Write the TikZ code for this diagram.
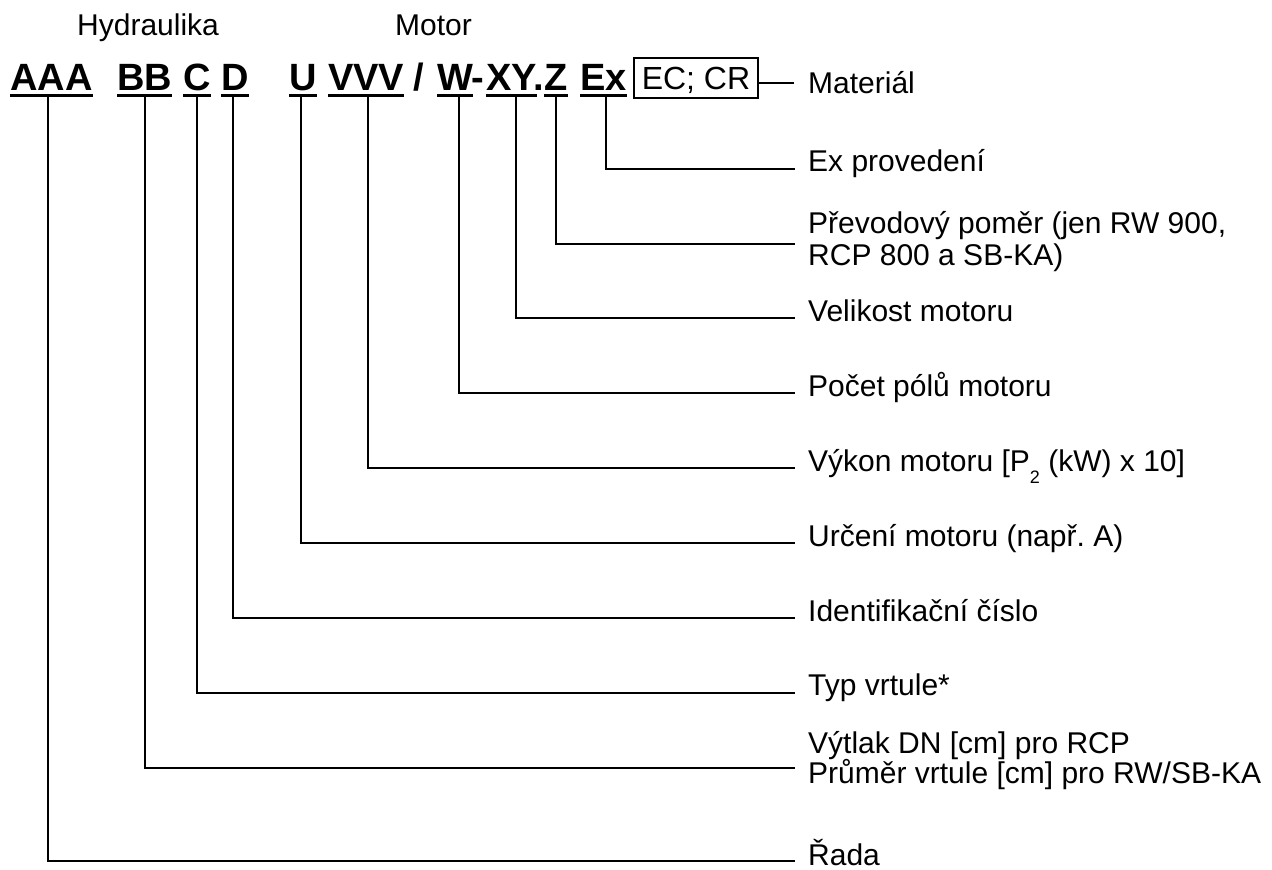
\documentclass[tikz,border=0pt]{standalone}
\usepackage{fontspec}
\setmainfont{Liberation Sans}
\frenchspacing
\begin{document}
\begin{tikzpicture}[x=1pt,y=-1pt,
  code/.style={font=\fontsize{38}{38}\selectfont\bfseries, inner sep=0pt, anchor=base west},
  lbl/.style={font=\fontsize{30}{30}\selectfont, inner sep=0pt, anchor=base west},
  conn/.style={line width=2pt},
  uline/.style={line width=3pt},
  matbox/.style={draw, line width=1.5pt, minimum width=124pt, minimum height=40pt, inner sep=0pt,
    text height=22pt, text depth=0pt, font=\fontsize{32}{32}\selectfont}]
\useasboundingbox (0,0) rectangle (1272,870);

% top headings
\node[lbl] (hyd) at (77,35) {Hydraulika};
\node[lbl] (mot) at (395,35) {Motor};

% code line
\node[code] (aaa) at (10,90) {AAA};
\node[code] (bb) at (117,90) {BB};
\node[code] (c) at (183,90) {C};
\node[code] (d) at (221,90) {D};
\node[code] (u) at (289,90) {U};
\node[code] (vvv) at (328,90) {VVV};
\node[code] (sl) at (413,90) {/};
\node[code] (w) at (437,90) {W};
\node[code] (dsh) at (471,90) {-};
\node[code] (xy) at (486,90) {XY};
\node[code] (dt) at (533,90) {.};
\node[code] (z) at (544,90) {Z};
\node[code] (ex) at (580,90) {Ex};
\node[matbox] (mat) at (696,78) {EC; CR};

\foreach \n in {aaa,bb,c,d,u,vvv,w,xy,z,ex}
  \draw[uline] ([yshift=-5pt]\n.base west) -- ([yshift=-5pt]\n.base east);

% line ends
\coordinate (e0) at (794,83);
\coordinate (e1) at (795,169);
\coordinate (e2) at (795,244);
\coordinate (e3) at (795,318);
\coordinate (e4) at (795,393);
\coordinate (e5) at (795,468);
\coordinate (e6) at (795,543);
\coordinate (e7) at (795,618);
\coordinate (e8) at (795,693);
\coordinate (e9) at (795,768);
\coordinate (e10) at (795,861);

% connectors
\draw[conn] (mat.east |- e0) -- (e0);
\draw[conn] ([xshift=3pt,yshift=-5pt]ex.base) |- (e1);
\draw[conn] ([yshift=-5pt]z.base) |- (e2);
\draw[conn] ([xshift=4pt,yshift=-5pt]xy.base) |- (e3);
\draw[conn] ([xshift=4pt,yshift=-5pt]w.base) |- (e4);
\draw[conn] ([xshift=2pt,yshift=-5pt]vvv.base) |- (e5);
\draw[conn] ([xshift=-2pt,yshift=-5pt]u.base) |- (e6);
\draw[conn] ([xshift=-2pt,yshift=-5pt]d.base) |- (e7);
\draw[conn] ([yshift=-5pt]c.base) |- (e8);
\draw[conn] ([yshift=-5pt]bb.base) |- (e9);
\draw[conn] ([xshift=-3pt,yshift=-5pt]aaa.base) |- (e10);

% labels
\node[lbl] (l0) at ([xshift=14pt,yshift=-10pt]e0) {Materiál};
\node[lbl] (l1) at ([xshift=13pt,yshift=-2pt]e1) {Ex provedení};
\node[lbl] (l2a) at ([xshift=13pt,yshift=11pt]e2) {Převodový poměr (jen RW 900,};
\node[lbl] (l2b) at ([xshift=13pt,yshift=-21pt]e2) {RCP 800 a SB-KA)};
\node[lbl] (l3) at ([xshift=13pt,yshift=-3pt]e3) {Velikost motoru};
\node[lbl] (l4) at ([xshift=13pt,yshift=-3pt]e4) {Počet pólů motoru};
\node[lbl] (l5) at ([xshift=13pt,yshift=-3pt]e5) {Výkon motoru [P\raisebox{-12pt}{\fontsize{18}{18}\selectfont 2} (kW) x 10]};
\node[lbl] (l6) at ([xshift=13pt,yshift=-3pt]e6) {Určení motoru (např. A)};
\node[lbl] (l7) at ([xshift=13pt,yshift=-3pt]e7) {Identifikační číslo};
\node[lbl] (l8) at ([xshift=13pt,yshift=-2pt]e8) {Typ vrtule*};
\node[lbl] (l9a) at ([xshift=13pt,yshift=15pt]e9) {Výtlak DN [cm] pro RCP};
\node[lbl] (l9b) at ([xshift=13pt,yshift=-15pt]e9) {Průměr vrtule [cm] pro RW/SB-KA};
\node[lbl] (l10) at ([xshift=13pt,yshift=-4pt]e10) {Řada};
\end{tikzpicture}
\end{document}
